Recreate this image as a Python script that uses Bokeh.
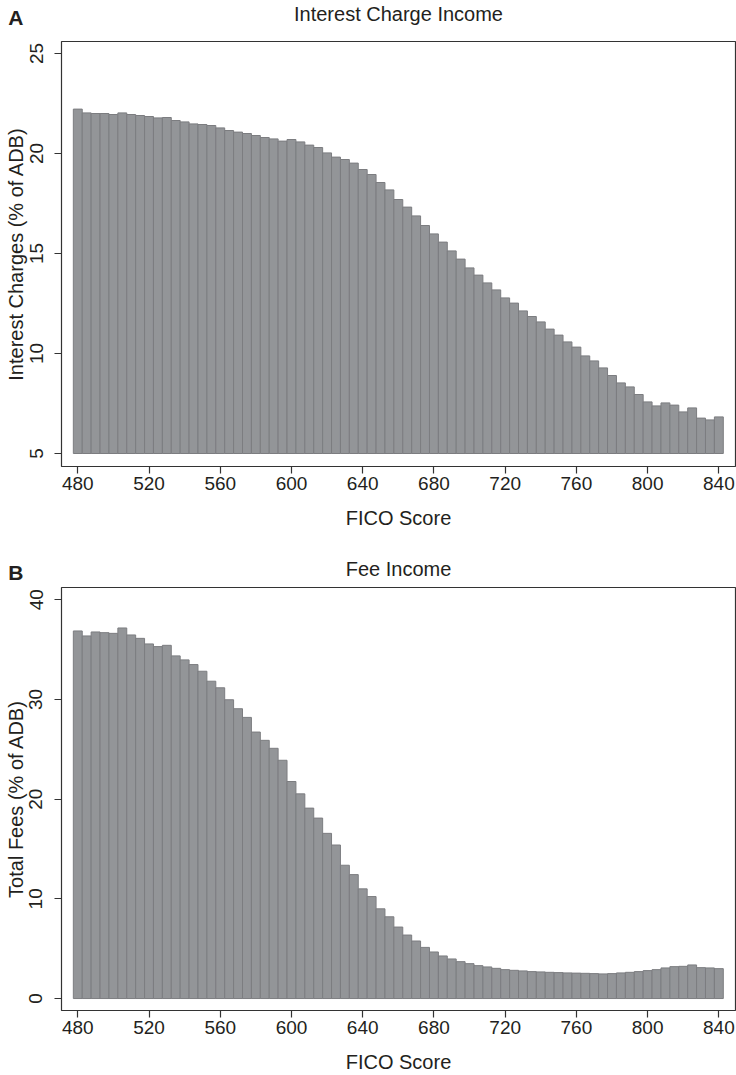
from bokeh.plotting import figure
from bokeh.layouts import column
from bokeh.models import Range1d, FixedTicker, LinearAxis
from bokeh.core.properties import value
from bokeh.embed import file_html
from bokeh.resources import INLINE

# FICO score bins (bar centers)
fico = [480, 485, 490, 495, 500, 505, 510, 515, 520, 525, 530, 535, 540, 545, 550,
        555, 560, 565, 570, 575, 580, 585, 590, 595, 600, 605, 610, 615, 620, 625,
        630, 635, 640, 645, 650, 655, 660, 665, 670, 675, 680, 685, 690, 695, 700,
        705, 710, 715, 720, 725, 730, 735, 740, 745, 750, 755, 760, 765, 770, 775,
        780, 785, 790, 795, 800, 805, 810, 815, 820, 825, 830, 835, 840]

# Panel A: interest charges (% of ADB)
interest = [22.22, 22.03, 22.00, 22.00, 21.95, 22.03, 21.95, 21.90, 21.85, 21.78,
            21.80, 21.65, 21.58, 21.48, 21.45, 21.40, 21.28, 21.15, 21.07, 21.00,
            20.90, 20.80, 20.73, 20.62, 20.70, 20.58, 20.42, 20.30, 20.03, 19.82,
            19.70, 19.52, 19.20, 18.95, 18.55, 18.18, 17.70, 17.32, 16.88, 16.40,
            15.98, 15.57, 15.13, 14.72, 14.28, 13.92, 13.53, 13.18, 12.78, 12.52,
            12.13, 11.85, 11.58, 11.22, 10.92, 10.58, 10.32, 9.88, 9.63, 9.28,
            8.90, 8.53, 8.33, 7.95, 7.58, 7.38, 7.53, 7.42, 7.08, 7.28,
            6.77, 6.68, 6.83]

# Panel B: total fees (% of ADB)
fees = [36.87, 36.37, 36.77, 36.70, 36.63, 37.17, 36.47, 36.13, 35.57, 35.30,
        35.43, 34.37, 33.97, 33.50, 32.83, 31.83, 31.17, 29.97, 29.07, 28.20,
        26.73, 25.90, 25.10, 23.90, 21.77, 20.53, 19.10, 18.10, 16.57, 15.40,
        13.37, 12.43, 11.00, 10.23, 9.00, 8.20, 7.17, 6.37, 5.77, 5.13,
        4.67, 4.27, 3.97, 3.70, 3.50, 3.30, 3.17, 3.03, 2.90, 2.83,
        2.77, 2.70, 2.67, 2.63, 2.60, 2.57, 2.55, 2.53, 2.50, 2.47,
        2.50, 2.57, 2.63, 2.70, 2.80, 2.90, 3.07, 3.20, 3.23, 3.37,
        3.10, 3.07, 3.00]

x_ticks = [480, 520, 560, 600, 640, 680, 720, 760, 800, 840]
ticks_a = [5, 10, 15, 20, 25]
ticks_b = [0, 10, 20, 30, 40]

FONT = "Liberation Sans"
TXT = "#231f20"
BAR_FILL = "#939598"
BAR_LINE = "#7c7d80"


def make_header(letter, title, height, letter_y, title_y):
    """Strip above a panel holding the panel letter and the panel title.
    Its frame is aligned with the panel frame (x 61..735 px)."""
    h = figure(width=736, height=height, x_range=Range1d(61, 735),
               y_range=Range1d(height, 0), output_backend="svg",
               toolbar_location=None, x_axis_type=None, y_axis_type=None,
               min_border_left=61, min_border_right=1,
               min_border_top=0, min_border_bottom=0, title=None)
    h.grid.visible = False
    h.outline_line_color = None
    h.background_fill_color = "white"
    h.border_fill_color = "white"
    # panel letter, drawn as the single tick label of a bare left axis
    ax = LinearAxis(ticker=FixedTicker(ticks=[letter_y]),
                    major_label_overrides={letter_y: letter})
    ax.axis_line_color = None
    ax.major_tick_line_color = None
    ax.minor_tick_line_color = None
    ax.major_tick_out = 0
    ax.major_tick_in = 0
    ax.major_label_standoff = 38
    ax.major_label_text_font = FONT
    ax.major_label_text_font_size = "21px"
    ax.major_label_text_font_style = "bold"
    ax.major_label_text_color = TXT
    h.add_layout(ax, "left")
    h.text(x=[398], y=[title_y], text=[title], text_font=value(FONT),
           text_font_size="20px", text_font_style="normal", text_color=TXT,
           text_baseline="middle", text_align="center")
    return h


def make_panel(ylabel, values, base, yr, yticks, height, bottom_border):
    p = figure(width=736, height=height,
               x_range=Range1d(470.85, 849.35), y_range=Range1d(*yr),
               output_backend="svg", toolbar_location=None, title=None,
               min_border_left=61, min_border_right=1,
               min_border_top=1, min_border_bottom=bottom_border)
    p.vbar(x=fico, width=5, top=values, bottom=base,
           fill_color=BAR_FILL, line_color=BAR_LINE, line_width=1)

    p.grid.visible = False
    p.outline_line_color = "#333333"
    p.outline_line_width = 1.2
    p.background_fill_color = "white"
    p.border_fill_color = "white"

    for ax in (p.xaxis[0], p.yaxis[0]):
        ax.axis_line_color = None
        ax.major_tick_line_color = "#333333"
        ax.major_tick_line_width = 1.2
        ax.major_tick_out = 7
        ax.major_tick_in = 0
        ax.minor_tick_line_color = None
        ax.major_label_text_font = FONT
        ax.major_label_text_font_size = "19px"
        ax.major_label_text_color = TXT
        ax.axis_label_text_font = FONT
        ax.axis_label_text_font_size = "20px"
        ax.axis_label_text_font_style = "normal"
        ax.axis_label_text_color = TXT

    p.xaxis.ticker = FixedTicker(ticks=x_ticks)
    p.yaxis.ticker = FixedTicker(ticks=yticks)
    p.xaxis.axis_label = "FICO Score"
    p.yaxis.axis_label = ylabel
    p.yaxis.major_label_orientation = "vertical"
    p.xaxis.major_label_standoff = 3
    p.yaxis.major_label_standoff = 12
    p.xaxis.axis_label_standoff = 14
    p.yaxis.axis_label_standoff = 0
    return p


ha = make_header("A", "Interest Charge Income", 40, 17, 13.7)
pa = make_panel("Interest Charges (% of ADB)", interest, 5, (4.35, 25.6),
                ticks_a, 497, 71)
hb = make_header("B", "Fee Income", 49, 35, 31.8)
pb = make_panel("Total Fees (% of ADB)", fees, 0, (-1.2, 41.23),
                ticks_b, 489, 64)

layout = column(ha, pa, hb, pb, spacing=0)
open("out.html", "w").write(file_html(layout, INLINE))
